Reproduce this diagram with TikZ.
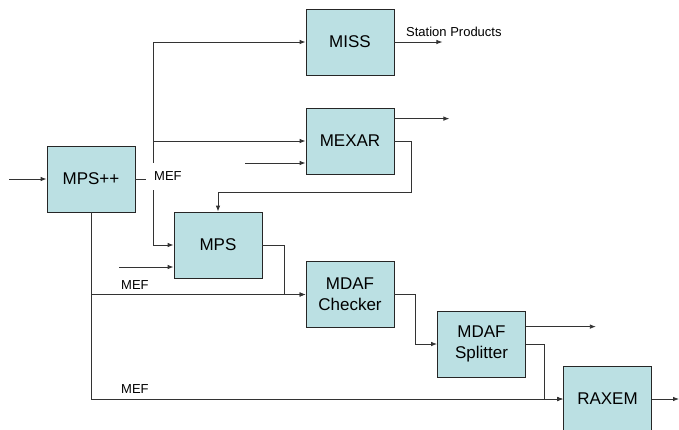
\documentclass[tikz,border=0pt]{standalone}
\usepackage{fontspec}
\setmainfont{Liberation Sans}
\usetikzlibrary{arrows.meta}
\definecolor{boxfill}{HTML}{BBE0E3}

\begin{document}
\begin{tikzpicture}[
  x=1pt, y=-1pt,
  blk/.style={
    draw=black!85, fill=boxfill, line width=0.8pt,
    minimum width=88pt, minimum height=66pt,
    inner sep=0pt,
    font=\fontsize{17}{21}\selectfont, align=center
  },
  lbl/.style={font=\fontsize{13}{15}\selectfont, inner sep=0pt},
  arr/.style={draw=black!80, line width=0.8pt, -{Latex[length=6pt,width=4.5pt]}},
  wire/.style={draw=black!80, line width=0.8pt}
]
\useasboundingbox (0,0) rectangle (679,429);
\clip (0,0) rectangle (679,429);

% --- Blocks ---
\node[blk] (mpspp) at (91,179)    {MPS++};
\node[blk] (miss)  at (350,42)    {MISS};
\node[blk] (mexar) at (350,141)   {MEXAR};
\node[blk] (mps)   at (218,245)   {MPS};
\node[blk] (chk)   at (350,294.5) {MDAF\\Checker};
\node[blk] (spl)   at (481.5,344) {MDAF\\Splitter};
\node[blk] (rax)   at (607.5,399) {RAXEM};

% --- Free ends ---
\coordinate (src)    at (9,179);
\coordinate (sp)     at (153,179);   % MEF spine
\coordinate (mexin)  at (245,163);
\coordinate (mpsin)  at (119,267);
\coordinate (raxout) at (679,399);

% --- MPS++ out (MEF) ---
\draw[arr] (src) -- (mpspp.west);
\draw[wire] (mpspp.east) -- (sp);
\draw[arr] (sp) |- (miss.west);
\draw[arr] (sp |- mexar.west) -- (mexar.west);
\draw[arr] (sp) |- (mps.west);
\draw[arr] (mpspp.south) |- (rax.west);
\draw[arr] (mpspp.south |- chk.west) -- (chk.west);

% --- MISS / MEXAR ---
\draw[arr] (miss.east) -- ++(48,0);
\draw[arr] (mexin) -- (mexin -| mexar.west);
\draw[arr] ([yshift=-11pt]mexar.north east) -- ++(55,0);
\draw[arr] (mexar.east) -- ++(17,0) |- ([yshift=19pt]mps.north) -- (mps.north);

% --- MPS chain ---
\draw[arr] (mpsin) -- (mpsin -| mps.west);
\draw[arr] (mps.east) -- ++(22,0) |- (chk.west);
\draw[arr] (chk.east) -- ++(21,0) |- (spl.west);
\draw[arr] ([yshift=-16pt]spl.north east) -- ++(70,0);
\draw[arr] (spl.east) -- ++(18,0) |- (rax.west);
\draw[arr] (rax.east) -- (raxout);

% --- Labels ---
\node[lbl, anchor=base west] (stat) at (406,36) {Station Products};
\node[lbl, anchor=west, fill=white, inner xsep=8pt, minimum height=27pt]
  (mef1) at (146,176.5) {MEF};
\node[lbl, anchor=base west] (mef2) at (121,289) {MEF};
\node[lbl, anchor=base west] (mef3) at (121,393) {MEF};
\end{tikzpicture}
\end{document}
